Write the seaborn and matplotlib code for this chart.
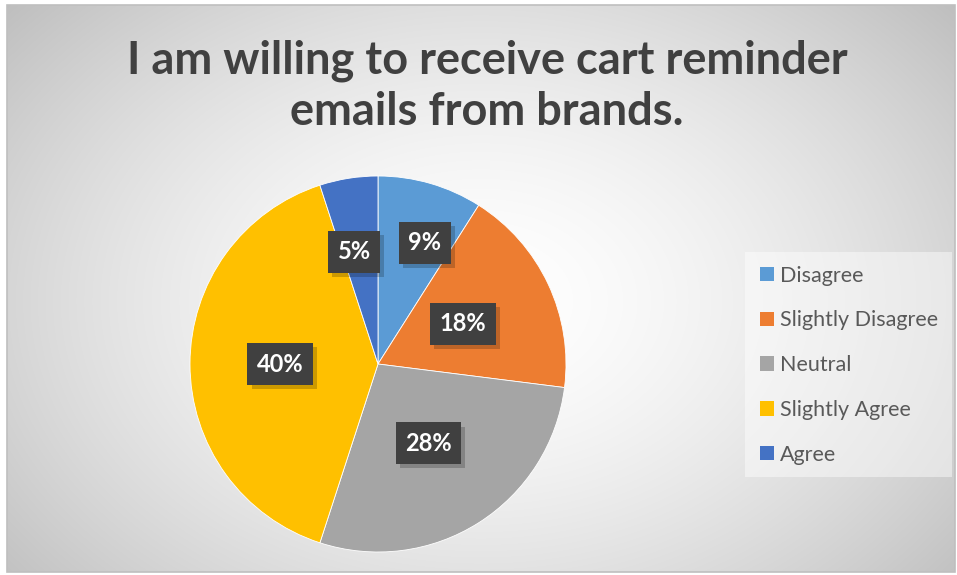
import numpy as np
import matplotlib
matplotlib.use("Agg")
import matplotlib.pyplot as plt
import matplotlib.patheffects as pe
from matplotlib.patches import Rectangle
import seaborn as sns

# Survey responses
categories = ["Disagree", "Slightly Disagree", "Neutral", "Slightly Agree", "Agree"]
shares = [9, 18, 28, 40, 5]
title = "I am willing to receive cart reminder\nemails from brands."

colors = sns.color_palette(["#5B9BD5", "#ED7D31", "#A5A5A5", "#FFC000", "#4472C4"])
# data label placement: radial distance and position along each wedge (0 = start, 1 = end)
label_dist = [0.69, 0.50, 0.50, 0.52, 0.61]
label_frac = [0.65, 0.50, 0.50, 0.50, 0.33]

sns.set_theme(style="white")
plt.rcParams["font.family"] = ["Lato", "DejaVu Sans"]

W, H = 957, 575
fig = plt.figure(figsize=(W / 100, H / 100), dpi=100)
fig.patch.set_facecolor("white")

# radial grey-to-white background of the chart area
bg = fig.add_axes([0, 0, 1, 1])
bg.set_xlim(0, W)
bg.set_ylim(H, 0)
bg.axis("off")
yy, xx = np.mgrid[0:H, 0:W]
cx, cy = 478, 300
d = np.sqrt(((xx - cx) / 580) ** 2 + ((yy - cy) / 420) ** 2)
v = 1.0 - 0.22 * np.clip(d, 0, 1.15) ** 1.6
img = np.dstack([v, v, v])
bg.imshow(img, extent=(7, 955, 572, 5), interpolation="bilinear", zorder=0)
bg.add_patch(Rectangle((7, 5), 948, 567, fill=False, edgecolor="#bfbfbf", lw=1.2, zorder=1))
# legend panel
bg.add_patch(Rectangle((745, 252), 207, 225, facecolor="white", alpha=0.45, edgecolor="none", zorder=1))

fig.text(487 / W, 1 - 86 / H, title, ha="center", va="center", fontsize=32.5,
         fontweight="bold", color="#404040", linespacing=1.26)

ax = fig.add_axes([190 / W, 23 / H, 376 / W, 376 / H])
wedges, _ = ax.pie(shares, colors=colors, startangle=90, counterclock=False,
                   radius=1.0, wedgeprops=dict(edgecolor="white", linewidth=0.6))
ax.set_xlim(-1, 1)
ax.set_ylim(-1, 1)
ax.set_aspect("auto")
ax.axis("off")

total = sum(shares)
cum = np.concatenate([[0], np.cumsum(shares)[:-1]])
for val, c0, dist, frac in zip(shares, cum, label_dist, label_frac):
    ang = np.deg2rad(90 - 360 * (c0 + frac * val) / total)
    t = ax.text(dist * np.cos(ang), dist * np.sin(ang), f"{val}%", ha="center", va="center",
                fontsize=17, fontweight="bold", color="white", zorder=5,
                bbox=dict(boxstyle="square,pad=0.4", facecolor="#404040",
                          edgecolor="none", linewidth=0))
    t.get_bbox_patch().set_path_effects([
        pe.SimplePatchShadow(offset=(3, -3), shadow_rgbFace="black", alpha=0.2),
        pe.Normal()])

leg = fig.legend(wedges, categories, loc="upper left", bbox_to_anchor=(751 / W, 1 - 257 / H),
                 frameon=False, fontsize=15.5, labelcolor="#595959",
                 handlelength=0.65, handleheight=0.65, handletextpad=0.3,
                 labelspacing=1.15, borderaxespad=0)
for h in leg.legend_handles:
    h.set_edgecolor("none")

fig.savefig("out.png", dpi=100)
